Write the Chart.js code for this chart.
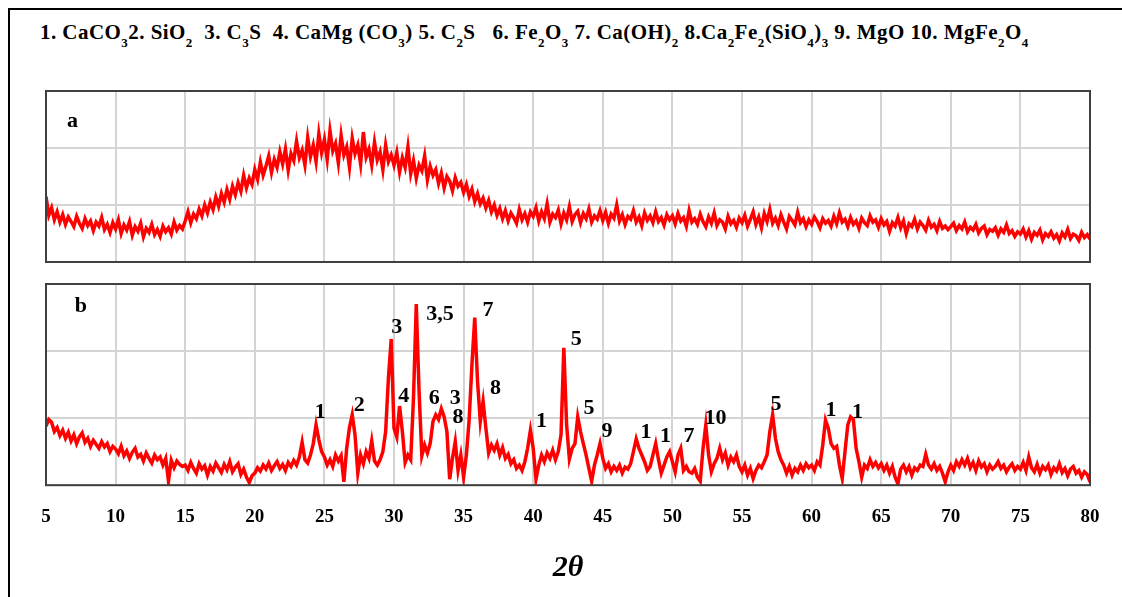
<!DOCTYPE html>
<html>
<head>
<meta charset="utf-8">
<script src="https://cdn.jsdelivr.net/npm/chart.js@4.4.1/dist/chart.umd.min.js"></script>
<style>
  html, body { margin: 0; padding: 0; background: #fff; }
  body { width: 1122px; height: 597px; position: relative; overflow: hidden; }
  #marco { position: absolute; left: 8px; top: 8px; width: 1200px; height: 700px;
           border-left: 2px solid #000; border-top: 2px solid #000; }
  #titulo { position: absolute; left: 40px; top: 20px; white-space: pre; letter-spacing: 0.45px;
            font: bold 21px "Liberation Serif", serif; color: #000; }
  #titulo sub { font-size: 13px; vertical-align: -8px; line-height: 0; }
  canvas { position: absolute; left: 0; }
  #graficoA { top: 80px; }
  #graficoB { top: 278px; }
</style>
</head>
<body>
<div id="marco"></div>
<div id="titulo">1. CaCO<sub>3</sub>2. SiO<sub>2</sub>  3. C<sub>3</sub>S  4. CaMg (CO<sub>3</sub>) 5. C<sub>2</sub>S   6. Fe<sub>2</sub>O<sub>3</sub> 7. Ca(OH)<sub>2</sub> 8.Ca<sub>2</sub>Fe<sub>2</sub>(SiO<sub>4</sub>)<sub>3</sub> 9. MgO 10. MgFe<sub>2</sub>O<sub>4</sub></div>
<canvas id="graficoA" width="1122" height="190"></canvas>
<canvas id="graficoB" width="1122" height="312"></canvas>
<script>
// eje 2theta: de 5 a 80 cada 0.2 grados
const thetaInicio = 5
const thetaPaso = 0.2
const ejeTicks = [5, 10, 15, 20, 25, 30, 35, 40, 45, 50, 55, 60, 65, 70, 75, 80]

// muestra a (amorfa), un renglon = 5 grados
const intensidadA = [
  1.15, 0.82, 0.95, 0.74, 0.88, 0.70, 0.83, 0.66, 0.79, 0.71, 0.62, 0.80, 0.68, 0.59, 0.76, 0.64, 0.72, 0.55, 0.70, 0.63, 0.78, 0.57, 0.66, 0.52, 0.69,
  0.58, 0.74, 0.50, 0.65, 0.56, 0.71, 0.47, 0.62, 0.54, 0.68, 0.44, 0.59, 0.52, 0.66, 0.48, 0.57, 0.45, 0.63, 0.53, 0.60, 0.49, 0.70, 0.56, 0.64, 0.58,
  0.72, 0.88, 0.69, 0.84, 0.76, 0.93, 0.81, 1.00, 0.86, 1.05, 0.92, 1.14, 0.98, 1.20, 1.05, 1.27, 1.10, 1.33, 1.18, 1.39, 1.24, 1.52, 1.30, 1.47, 1.36,
  1.62, 1.45, 1.75, 1.52, 1.68, 1.86, 1.57, 1.80, 1.66, 1.93, 1.72, 1.98, 1.61, 1.90, 1.78, 2.12, 1.83, 1.96, 1.70, 2.18, 1.85, 2.05, 1.76, 2.25, 1.92,
  2.15, 1.80, 2.30, 1.95, 2.08, 1.74, 2.22, 1.88, 2.02, 1.66, 2.17, 1.90, 2.05, 1.72, 2.28, 1.84, 1.98, 1.70, 2.10, 1.79, 1.93, 1.62, 2.05, 1.76, 1.88,
  1.70, 1.92, 1.58, 1.83, 1.66, 2.02, 1.55, 1.78, 1.47, 1.70, 1.60, 1.86, 1.44, 1.68, 1.52, 1.62, 1.38, 1.56, 1.30, 1.50, 1.42, 1.25, 1.48, 1.33, 1.40,
  1.22, 1.36, 1.15, 1.28, 1.06, 1.20, 1.02, 1.12, 0.95, 1.08, 0.88, 1.00, 0.82, 0.94, 0.76, 0.90, 0.72, 0.86, 0.78, 0.68, 0.92, 0.74, 0.85, 0.70, 0.88,
  0.80, 0.95, 0.72, 0.88, 0.76, 1.02, 0.70, 0.84, 0.78, 0.91, 0.67, 0.86, 0.74, 0.97, 0.71, 0.83, 0.89, 0.69, 0.85, 0.76, 0.93, 0.70, 0.81, 0.75, 0.90,
  0.73, 0.87, 0.68, 0.84, 0.77, 1.00, 0.72, 0.83, 0.66, 0.80, 0.75, 0.90, 0.70, 0.79, 0.64, 0.86, 0.73, 0.81, 0.69, 0.88, 0.71, 0.78, 0.65, 0.83, 0.74,
  0.81, 0.67, 0.85, 0.72, 0.78, 0.63, 0.90, 0.70, 0.76, 0.66, 0.84, 0.71, 0.62, 0.79, 0.68, 0.86, 0.64, 0.74, 0.70, 0.58, 0.80, 0.67, 0.73, 0.61, 0.77,
  0.69, 0.82, 0.63, 0.75, 0.88, 0.66, 0.79, 0.60, 0.85, 0.71, 0.92, 0.68, 0.77, 0.64, 0.83, 0.70, 0.58, 0.80, 0.73, 0.65, 0.87, 0.69, 0.76, 0.62, 0.74,
  0.66, 0.79, 0.71, 0.60, 0.76, 0.68, 0.73, 0.63, 0.80, 0.67, 0.86, 0.70, 0.75, 0.62, 0.78, 0.66, 0.72, 0.59, 0.77, 0.69, 0.64, 0.81, 0.70, 0.74, 0.61,
  0.76, 0.65, 0.71, 0.54, 0.69, 0.63, 0.78, 0.60, 0.72, 0.50, 0.67, 0.62, 0.75, 0.58, 0.70, 0.64, 0.56, 0.73, 0.61, 0.66, 0.55, 0.71, 0.59, 0.63, 0.57,
  0.62, 0.68, 0.55, 0.64, 0.58, 0.70, 0.53, 0.61, 0.56, 0.66, 0.51, 0.59, 0.63, 0.48, 0.57, 0.54, 0.60, 0.47, 0.58, 0.52, 0.65, 0.50, 0.55, 0.45, 0.53,
  0.49, 0.58, 0.44, 0.55, 0.40, 0.52, 0.47, 0.56, 0.39, 0.50, 0.45, 0.53, 0.42, 0.48, 0.37, 0.51, 0.44, 0.57, 0.41, 0.49, 0.46, 0.38, 0.52, 0.43, 0.48,
  0.40
]

// muestra b (cristalina)
const intensidadB = [
  0.88, 0.98, 0.94, 0.80, 0.86, 0.74, 0.82, 0.70, 0.79, 0.66, 0.75, 0.62, 0.72, 0.78, 0.64, 0.70, 0.58, 0.67, 0.61, 0.55, 0.65, 0.57, 0.62, 0.50, 0.58,
  0.54, 0.47, 0.58, 0.44, 0.51, 0.40, 0.49, 0.55, 0.42, 0.46, 0.36, 0.48, 0.40, 0.33, 0.45, 0.38, 0.42, 0.30, 0.40, 0.06, 0.37, 0.26, 0.36, 0.31, 0.28,
  0.30, 0.22, 0.34, 0.25, 0.18, 0.32, 0.24, 0.29, 0.15, 0.28, 0.21, 0.33, 0.26, 0.19, 0.31, 0.23, 0.35, 0.20, 0.27, 0.32, 0.16, 0.24, 0.12, 0.04, 0.14,
  0.18, 0.26, 0.21, 0.30, 0.24, 0.33, 0.22, 0.29, 0.35, 0.25, 0.31, 0.22, 0.34, 0.28, 0.37, 0.30, 0.42, 0.64, 0.38, 0.33, 0.45, 0.62, 0.90, 0.68, 0.50,
  0.42, 0.30, 0.38, 0.28, 0.45, 0.36, 0.44, 0.05, 0.55, 0.86, 1.05, 0.75, 0.18, 0.45, 0.32, 0.50, 0.40, 0.66, 0.36, 0.30, 0.38, 0.50, 0.80, 1.60, 2.18,
  0.85, 0.72, 1.18, 0.80, 0.34, 0.45, 0.38, 1.30, 2.70, 1.40, 0.44, 0.60, 0.48, 0.62, 0.95, 1.05, 0.98, 1.14, 1.02, 0.80, 0.09, 0.40, 0.65, 0.22, 0.45,
  0.12, 0.45, 0.98, 1.80, 2.50, 1.55, 0.95, 1.25, 0.85, 0.48, 0.60, 0.52, 0.62, 0.45, 0.56, 0.40, 0.46, 0.32, 0.38, 0.25, 0.30, 0.22, 0.35, 0.55, 0.82,
  0.55, 0.09, 0.30, 0.45, 0.35, 0.48, 0.40, 0.52, 0.38, 0.50, 0.75, 2.05, 0.90, 0.39, 0.55, 0.62, 1.02, 0.80, 0.62, 0.45, 0.25, 0.06, 0.30, 0.45, 0.62,
  0.40, 0.25, 0.32, 0.20, 0.28, 0.22, 0.30, 0.18, 0.27, 0.24, 0.32, 0.50, 0.69, 0.55, 0.45, 0.35, 0.22, 0.28, 0.45, 0.62, 0.38, 0.18, 0.30, 0.42, 0.50,
  0.35, 0.20, 0.45, 0.55, 0.22, 0.28, 0.20, 0.18, 0.25, 0.12, 0.06, 0.55, 0.90, 0.45, 0.20, 0.32, 0.40, 0.55, 0.38, 0.48, 0.30, 0.42, 0.35, 0.45, 0.28,
  0.20, 0.30, 0.15, 0.25, 0.10, 0.22, 0.30, 0.26, 0.35, 0.45, 0.80, 1.05, 0.70, 0.50, 0.38, 0.30, 0.18, 0.28, 0.15, 0.25, 0.20, 0.30, 0.22, 0.32, 0.26,
  0.30, 0.22, 0.35, 0.30, 0.60, 0.97, 0.85, 0.62, 0.55, 0.58, 0.30, 0.10, 0.50, 0.90, 1.02, 0.98, 0.55, 0.35, 0.12, 0.30, 0.25, 0.38, 0.28, 0.34, 0.26,
  0.32, 0.22, 0.30, 0.18, 0.28, 0.12, 0.02, 0.24, 0.30, 0.20, 0.28, 0.15, 0.26, 0.22, 0.30, 0.28, 0.46, 0.30, 0.24, 0.32, 0.22, 0.28, 0.18, 0.05, 0.20,
  0.30, 0.22, 0.35, 0.28, 0.38, 0.30, 0.40, 0.26, 0.34, 0.22, 0.36, 0.27, 0.32, 0.20, 0.30, 0.24, 0.28, 0.35, 0.25, 0.30, 0.20, 0.27, 0.32, 0.22, 0.28,
  0.24, 0.34, 0.22, 0.42, 0.26, 0.20, 0.31, 0.18, 0.28, 0.23, 0.30, 0.16, 0.26, 0.21, 0.32, 0.19, 0.25, 0.14, 0.24, 0.28, 0.18, 0.22, 0.12, 0.20, 0.16,
  0.05
]

// etiquetas de fases sobre los picos (texto, 2theta, intensidad)
const fasesTexto = ["1", "2", "3", "4", "3,5", "6", "3", "8", "7", "8", "1", "5", "5", "9", "1", "1", "7", "10", "5", "1", "1"]
const fasesTheta = [24.7, 27.5, 30.2, 30.7, 33.3, 32.9, 34.4, 34.6, 36.75, 37.3, 40.6, 43.1, 44.0, 45.3, 48.1, 49.5, 51.2, 53.1, 57.45, 61.4, 63.3]
const fasesY = [1.08, 1.19, 2.35, 1.32, 2.55, 1.29, 1.29, 1.01, 2.61, 1.44, 0.95, 2.17, 1.14, 0.80, 0.79, 0.73, 0.73, 1.0, 1.2, 1.11, 1.08]

const serif = '"Liberation Serif", "Times New Roman", serif'

function armarPuntos(valores) {
  let puntos = []
  for (var i = 0; i < valores.length; i++) {
    puntos.push({ x: +(thetaInicio + i * thetaPaso).toFixed(1), y: valores[i] })
  }
  return puntos
}

// marco del area de graficos y textos encima
const marcoPlugin = {
  id: 'marco',
  afterDatasetsDraw(chart, args, opts) {
    const ctx = chart.ctx
    const a = chart.chartArea
    ctx.save()
    ctx.strokeStyle = '#404040'
    ctx.lineWidth = 2
    ctx.strokeRect(a.left, a.top, a.right - a.left, a.bottom - a.top)
    ctx.fillStyle = '#000'
    ctx.textAlign = 'center'
    ctx.textBaseline = 'middle'
    const xs = chart.scales.x, ys = chart.scales.y
    ctx.font = 'bold 22px ' + serif
    ctx.fillText(opts.letra, xs.getPixelForValue(opts.letraX), ys.getPixelForValue(opts.letraY))
    if (opts.fases) {
      ctx.font = 'bold 22px ' + serif
      for (var i = 0; i < fasesTexto.length; i++) {
        ctx.fillText(fasesTexto[i], xs.getPixelForValue(fasesTheta[i]), ys.getPixelForValue(fasesY[i]))
      }
    }
    ctx.restore()
  }
}

function opciones(conEje, plug) {
  return {
    responsive: false,
    animation: false,
    layout: { padding: conEje ? { left: 46, right: 32, top: 6, bottom: 0 } : { left: 46, right: 32, top: 11, bottom: 8 } },
    plugins: { legend: { display: false }, tooltip: { enabled: false }, marco: plug },
    scales: {
      x: {
        type: 'linear', min: 5, max: 80,
        afterBuildTicks: (s) => { s.ticks = ejeTicks.map(v => ({ value: v })) },
        grid: { color: '#d4d4d4', lineWidth: 2, drawTicks: false },
        border: { display: false },
        ticks: {
          display: conEje, padding: 20, color: '#000', maxRotation: 0,
          font: { family: serif, size: 19, weight: 'bold' }
        },
        title: {
          display: conEje, text: '2θ', color: '#000',
          font: { family: serif, size: 30, weight: 'bold', style: 'italic' },
          padding: { top: 2, bottom: 4 }
        }
      },
      y: {
        min: 0, max: 3,
        ticks: { display: false, stepSize: 1 },
        grid: { color: '#d4d4d4', lineWidth: 2, drawTicks: false },
        border: { display: false }
      }
    }
  }
}

function serie(valores) {
  return {
    data: armarPuntos(valores),
    borderColor: '#ff0000',
    borderWidth: 3.5,
    pointRadius: 0,
    tension: 0,
    fill: false
  }
}

var graficoA = new Chart(document.getElementById('graficoA').getContext('2d'), {
  type: 'line',
  data: { datasets: [serie(intensidadA)] },
  options: opciones(false, { letra: 'a', letraX: 6.9, letraY: 2.46, fases: false }),
  plugins: [marcoPlugin]
})

var graficoB = new Chart(document.getElementById('graficoB').getContext('2d'), {
  type: 'line',
  data: { datasets: [serie(intensidadB)] },
  options: opciones(true, { letra: 'b', letraX: 7.5, letraY: 2.66, fases: true }),
  plugins: [marcoPlugin]
})
</script>
</body>
</html>
